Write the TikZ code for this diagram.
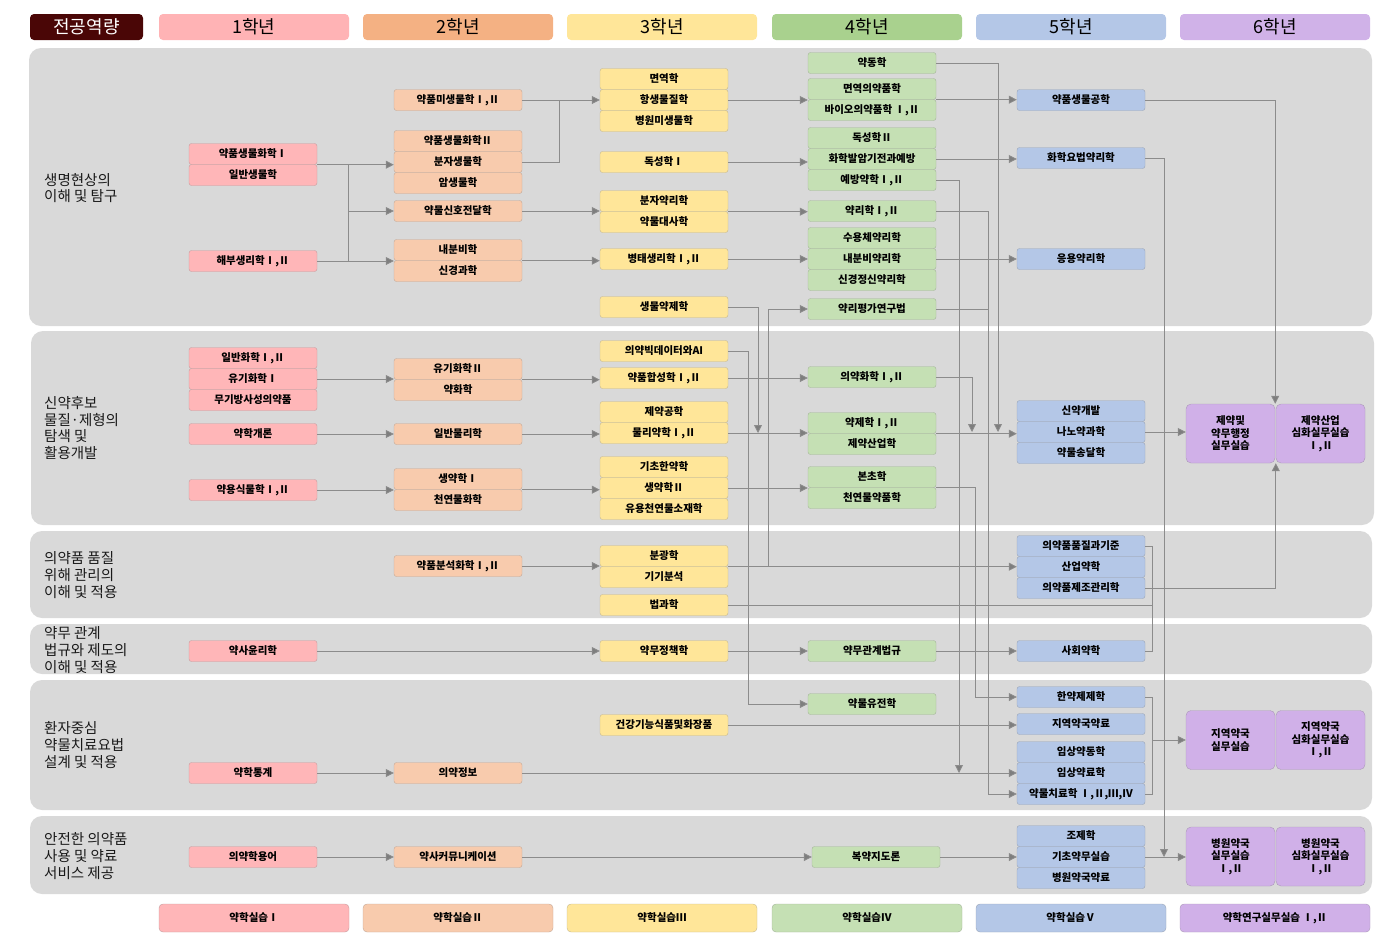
\documentclass[tikz,border=0pt]{standalone}
\usepackage{fontspec}
\setmainfont{Noto Sans CJK KR}
\usetikzlibrary{arrows.meta}
\definecolor{panelgray}{HTML}{D9D9D9}
\definecolor{linegray}{HTML}{8C8C8C}
\definecolor{capred}{HTML}{4A0606}
\definecolor{hdpink}{HTML}{FFB3B5}
\definecolor{hdorange}{HTML}{F4B183}
\definecolor{hdyellow}{HTML}{FFE699}
\definecolor{hdgreen}{HTML}{A9D18E}
\definecolor{hdblue}{HTML}{B4C7E7}
\definecolor{hdpurple}{HTML}{D0B2E8}
\definecolor{bxpink}{HTML}{FFB6B8}
\definecolor{bxorange}{HTML}{F8CBAD}
\definecolor{bxyellow}{HTML}{FFE699}
\definecolor{bxgreen}{HTML}{C5E0B4}
\definecolor{bxblue}{HTML}{B4C7E7}
\definecolor{bxpurple}{HTML}{D0B0E8}
\begin{document}
\begin{tikzpicture}[x=1pt,y=-1pt,
  box/.style={draw,rounded corners=2.5pt,minimum width=128pt,minimum height=21pt,inner sep=0pt,font=\bfseries\fontsize{10.5}{12}\selectfont},
  yr1/.style={box,fill=bxpink,draw=bxpink!55!gray},
  yr2/.style={box,fill=bxorange,draw=bxorange!55!gray},
  yr3/.style={box,fill=bxyellow,draw=bxyellow!55!gray},
  yr4/.style={box,fill=bxgreen,draw=bxgreen!55!gray},
  yr5/.style={box,fill=bxblue,draw=bxblue!55!gray},
  yr6/.style={draw=bxpurple!55!gray,fill=bxpurple,rounded corners=5pt,minimum width=89pt,minimum height=59pt,inner sep=0pt,align=center,font=\bfseries\fontsize{10.5}{12.5}\selectfont},
  hd/.style={rounded corners=4pt,minimum width=190pt,minimum height=26pt,inner sep=0pt,font=\fontsize{18}{20}\selectfont},
  ft/.style={rounded corners=4pt,minimum width=190pt,minimum height=28pt,inner sep=0pt,font=\bfseries\fontsize{10.5}{12}\selectfont},
  lab/.style={anchor=west,align=left,inner sep=0pt,font=\fontsize{14.5}{16.8}\selectfont,text=black!90},
  ln/.style={draw=linegray,line width=0.8pt},
  arr/.style={ln,-{Triangle[length=8pt,width=8pt,fill=linegray!90!black]}}]
\useasboundingbox (0,0) rectangle (1399,940);

\fill[panelgray,rounded corners=12pt] (29,48) rectangle (1372,326);
\fill[panelgray,rounded corners=12pt] (31,331) rectangle (1374,525);
\fill[panelgray,rounded corners=12pt] (30,531) rectangle (1372,618);
\fill[panelgray,rounded corners=12pt] (30,624) rectangle (1372,674);
\fill[panelgray,rounded corners=12pt] (30,680) rectangle (1372,810);
\fill[panelgray,rounded corners=12pt] (30,816) rectangle (1372,894);

\node[hd,fill=capred,text=white,minimum width=113pt] (hcap) at (86.5,27) {전공역량};
\node[hd,fill=hdpink] (hy1) at (254,27) {1학년};
\node[hd,fill=hdorange] (hy2) at (458,27) {2학년};
\node[hd,fill=hdyellow] (hy3) at (662,27) {3학년};
\node[hd,fill=hdgreen] (hy4) at (867,27) {4학년};
\node[hd,fill=hdblue] (hy5) at (1071,27) {5학년};
\node[hd,fill=hdpurple] (hy6) at (1275,27) {6학년};

\node[lab] (l1) at (44,188) {생명현상의\\이해 및 탐구};
\node[lab] (l2) at (44,428) {신약후보\\물질·제형의\\탐색 및\\활용개발};
\node[lab] (l3) at (44,575) {의약품 품질\\위해 관리의\\이해 및 적용};
\node[lab] (l4) at (44,650) {약무 관계\\법규와 제도의\\이해 및 적용};
\node[lab] (l5) at (44,745) {환자중심\\약물치료요법\\설계 및 적용};
\node[lab] (l6) at (44,856) {안전한 의약품\\사용 및 약료\\서비스 제공};

\node[yr1] (g1a) at (253,154) {약품생물화학Ⅰ};
\node[yr1] (g1b) at (253,175) {일반생물학};
\node[yr1] (g1c) at (253,261) {해부생리학Ⅰ,Ⅱ};
\node[yr1] (g1d) at (253,358) {일반화학Ⅰ,Ⅱ};
\node[yr1] (g1e) at (253,379) {유기화학Ⅰ};
\node[yr1] (g1f) at (253,400) {무기방사성의약품};
\node[yr1] (g1g) at (253,434) {약학개론};
\node[yr1] (g1h) at (253,490) {약용식물학Ⅰ,Ⅱ};
\node[yr1] (g1i) at (253,651) {약사윤리학};
\node[yr1] (g1j) at (253,773) {약학통계};
\node[yr1] (g1k) at (253,857) {의약학용어};

\node[yr2] (g2a) at (458,100) {약품미생물학Ⅰ,Ⅱ};
\node[yr2] (g2b) at (458,141) {약품생물화학Ⅱ};
\node[yr2] (g2c) at (458,162) {분자생물학};
\node[yr2] (g2d) at (458,183) {암생물학};
\node[yr2] (g2e) at (458,211) {약물신호전달학};
\node[yr2] (g2f) at (458,250) {내분비학};
\node[yr2] (g2g) at (458,271) {신경과학};
\node[yr2] (g2h) at (458,369) {유기화학Ⅱ};
\node[yr2] (g2i) at (458,390) {약화학};
\node[yr2] (g2j) at (458,434) {일반물리학};
\node[yr2] (g2k) at (458,479) {생약학Ⅰ};
\node[yr2] (g2l) at (458,500) {천연물화학};
\node[yr2] (g2m) at (458,566) {약품분석화학Ⅰ,Ⅱ};
\node[yr2] (g2n) at (458,773) {의약정보};
\node[yr2] (g2o) at (458,857) {약사커뮤니케이션};

\node[yr3] (g3a) at (664,79) {면역학};
\node[yr3] (g3b) at (664,100) {항생물질학};
\node[yr3] (g3c) at (664,121) {병원미생물학};
\node[yr3] (g3d) at (664,162) {독성학Ⅰ};
\node[yr3] (g3e) at (664,201) {분자약리학};
\node[yr3] (g3f) at (664,222) {약물대사학};
\node[yr3] (g3g) at (664,259) {병태생리학Ⅰ,Ⅱ};
\node[yr3] (g3h) at (664,307) {생물약제학};
\node[yr3] (g3i) at (664,351) {의약빅데이터와AI};
\node[yr3] (g3j) at (664,378) {약품합성학Ⅰ,Ⅱ};
\node[yr3] (g3k) at (664,412) {제약공학};
\node[yr3] (g3l) at (664,433) {물리약학Ⅰ,Ⅱ};
\node[yr3] (g3m) at (664,467) {기초한약학};
\node[yr3] (g3n) at (664,488) {생약학Ⅱ};
\node[yr3] (g3o) at (664,509) {유용천연물소재학};
\node[yr3] (g3p) at (664,556) {분광학};
\node[yr3] (g3q) at (664,577) {기기분석};
\node[yr3] (g3r) at (664,605) {법과학};
\node[yr3] (g3s) at (664,651) {약무정책학};
\node[yr3] (g3t) at (664,725) {건강기능식품및화장품};

\node[yr4] (g4a) at (872,63) {약동학};
\node[yr4] (g4b) at (872,89) {면역의약품학};
\node[yr4] (g4c) at (872,110) {바이오의약품학 Ⅰ,Ⅱ};
\node[yr4] (g4d) at (872,138) {독성학Ⅱ};
\node[yr4] (g4e) at (872,159) {화학발암기전과예방};
\node[yr4] (g4f) at (872,180) {예방약학Ⅰ,Ⅱ};
\node[yr4] (g4g) at (872,211) {약리학Ⅰ,Ⅱ};
\node[yr4] (g4h) at (872,238) {수용체약리학};
\node[yr4] (g4i) at (872,259) {내분비약리학};
\node[yr4] (g4j) at (872,280) {신경정신약리학};
\node[yr4] (g4k) at (872,309) {약리평가연구법};
\node[yr4] (g4l) at (872,377) {의약화학Ⅰ,Ⅱ};
\node[yr4] (g4m) at (872,423) {약제학Ⅰ,Ⅱ};
\node[yr4] (g4n) at (872,444) {제약산업학};
\node[yr4] (g4o) at (872,477) {본초학};
\node[yr4] (g4p) at (872,498) {천연물약품학};
\node[yr4] (g4q) at (872,651) {약무관계법규};
\node[yr4] (g4r) at (872,704) {약물유전학};
\node[yr4] (g4s) at (876,857) {복약지도론};

\node[yr5] (g5a) at (1081,100) {약품생물공학};
\node[yr5] (g5b) at (1081,158) {화학요법약리학};
\node[yr5] (g5c) at (1081,259) {응용약리학};
\node[yr5] (g5d) at (1081,411) {신약개발};
\node[yr5] (g5e) at (1081,432) {나노약과학};
\node[yr5] (g5f) at (1081,453) {약물송달학};
\node[yr5] (g5g) at (1081,546) {의약품품질과기준};
\node[yr5] (g5h) at (1081,567) {산업약학};
\node[yr5] (g5i) at (1081,588) {의약품제조관리학};
\node[yr5] (g5j) at (1081,651) {사회약학};
\node[yr5] (g5k) at (1081,697) {한약제제학};
\node[yr5] (g5l) at (1081,724) {지역약국약료};
\node[yr5] (g5m) at (1081,752) {임상약동학};
\node[yr5] (g5n) at (1081,773) {임상약료학};
\node[yr5] (g5o) at (1081,794) {약물치료학 Ⅰ,Ⅱ,Ⅲ,Ⅳ};
\node[yr5] (g5p) at (1081,836) {조제학};
\node[yr5] (g5q) at (1081,857) {기초약무실습};
\node[yr5] (g5r) at (1081,878) {병원약국약료};

\node[yr6] (g6a) at (1230.5,433.5) {제약및\\약무행정\\실무실습};
\node[yr6] (g6b) at (1320.5,433.5) {제약산업\\심화실무실습\\Ⅰ,Ⅱ};
\node[yr6] (g6c) at (1230.5,740) {지역약국\\실무실습};
\node[yr6] (g6d) at (1320.5,740) {지역약국\\심화실무실습\\Ⅰ,Ⅱ};
\node[yr6] (g6e) at (1230.5,856.5) {병원약국\\실무실습\\Ⅰ,Ⅱ};
\node[yr6] (g6f) at (1320.5,856.5) {병원약국\\심화실무실습\\Ⅰ,Ⅱ};

\node[ft,fill=bxpink,draw=bxpink!55!gray] (f1) at (254,918) {약학실습Ⅰ};
\node[ft,fill=bxorange,draw=bxorange!55!gray] (f2) at (458,918) {약학실습Ⅱ};
\node[ft,fill=bxyellow,draw=bxyellow!55!gray] (f3) at (662,918) {약학실습Ⅲ};
\node[ft,fill=bxgreen,draw=bxgreen!55!gray] (f4) at (867,918) {약학실습Ⅳ};
\node[ft,fill=bxblue,draw=bxblue!55!gray] (f5) at (1071,918) {약학실습Ⅴ};
\node[ft,fill=bxpurple,draw=bxpurple!55!gray] (f6) at (1275,918) {약학연구실무실습 Ⅰ,Ⅱ};

\coordinate (vA) at (348,0);
\coordinate (vB) at (559,0);
\coordinate (vC) at (748,0);
\coordinate (vD) at (758,0);
\coordinate (vE) at (768,0);
\coordinate (vF) at (959,0);
\coordinate (vG) at (972,0);
\coordinate (vH) at (975,0);
\coordinate (vI) at (988,0);
\coordinate (vJ) at (998,0);
\coordinate (vK) at (1152,0);
\coordinate (vL) at (1164,0);

\draw[ln] (g1a.south east -| vA) -- (g1c.east -| vA);
\draw[arr] (g1a.south east) -- (g1a.south east -| g2c.west);
\draw[arr] (g2e.west -| vA) -- (g2e.west);
\draw[arr] (g1c.east) -- (g1c.east -| g2f.west);
\draw[arr] (g1e.east) -- (g1e.east -| g2h.west);
\draw[arr] (g1g.east) -- (g2j.west);
\draw[arr] (g1h.east) -- (g1h.east -| g2k.west);
\draw[arr] (g1i.east) -- (g3s.west);
\draw[arr] (g1j.east) -- (g2n.west);
\draw[arr] (g1k.east) -- (g2o.west);

\draw[arr] (g2a.east) -- (g3b.west);
\draw[ln] (g2c.east) -| (g2a.east -| vB);
\draw[arr] (g2e.east) -- (g2e.east -| g3e.west);
\draw[arr] (g2f.south east) -- (g2f.south east -| g3g.west);
\draw[arr] (g2h.south east) -- (g2h.south east -| g3j.west);
\draw[arr] (g2j.east) -- (g2j.east -| g3l.west);
\draw[arr] (g2k.south east) -- (g2k.south east -| g3n.west);
\draw[arr] (g2m.east) -- (g2m.east -| g3p.west);
\draw[arr] (g2n.east) -- (g5n.west);
\draw[arr] (g2o.east) -- (g4s.west);

\draw[arr] (g3b.east) -- (g3b.east -| g4b.west);
\draw[arr] (g3d.east) -- (g3d.east -| g4e.west);
\draw[arr] (g3e.south east) -- (g3e.south east -| g4g.west);
\draw[arr] (g3g.east) -- (g4i.west);
\draw[arr] (g3h.east) -| (g3l.east -| vD);
\draw[arr] (g3p.south east -| vE) |- (g4k.west);
\draw[arr] (g3i.east) -| (g4r.west -| vC) -- (g4r.west);
\draw[arr] (g3j.east) -- (g3j.east -| g4l.west);
\draw[arr] (g3l.east) -- (g3l.east -| g4m.west);
\draw[arr] (g3n.east) -- (g3n.east -| g4o.west);
\draw[arr] (g3p.south east) -- (g3p.south east -| g5h.west);
\draw[ln] (g3r.east) -- (g3r.east -| vK);
\draw[arr] (g3s.east) -- (g4q.west);
\draw[arr] (g3t.east) -- (g3t.east -| g5l.west);

\draw[arr] (g4b.south east) -- (g4b.south east -| g5a.west);
\draw[arr] (g4e.east) -- (g4e.east -| g5b.west);
\draw[arr] (g4i.east) -- (g5c.west);
\draw[arr] (g4a.east) -| (g5e.west -| vJ);
\draw[arr] (g4f.east) -| (g5n.west -| vF);
\draw[arr] (g4g.east) -| (g5o.west -| vI) -- (g5o.west);
\draw[ln] (g4k.east) -- (g4k.east -| vI);
\draw[arr] (g4l.east) -| (g5e.west -| vG);
\draw[arr] (g4m.south east) -- (g4m.south east -| g5e.west);
\draw[arr] (g4o.south east) -| (g5k.west -| vH) -- (g5k.west);
\draw[arr] (g4q.east) -- (g5j.west);
\draw[arr] (g4s.east) -- (g5q.west);

\draw[arr] (g5a.east) -| (g6a.north east);
\draw[arr] (g5b.east) -| (g5q.east -| vL);
\draw[arr] (g5e.east) -- (g5e.east -| g6a.west);
\draw[ln] (g5g.east) -| (g5j.east -| vK) -- (g5j.east);
\draw[arr] (g5i.east) -| (g6b.south west);
\draw[ln] (g5k.east) -| (g5o.east -| vK) -- (g5o.east);
\draw[arr] (g6c.west -| vK) -- (g6c.west);
\draw[arr] (g5q.east) -- (g5q.east -| g6e.west);
\end{tikzpicture}
\end{document}
